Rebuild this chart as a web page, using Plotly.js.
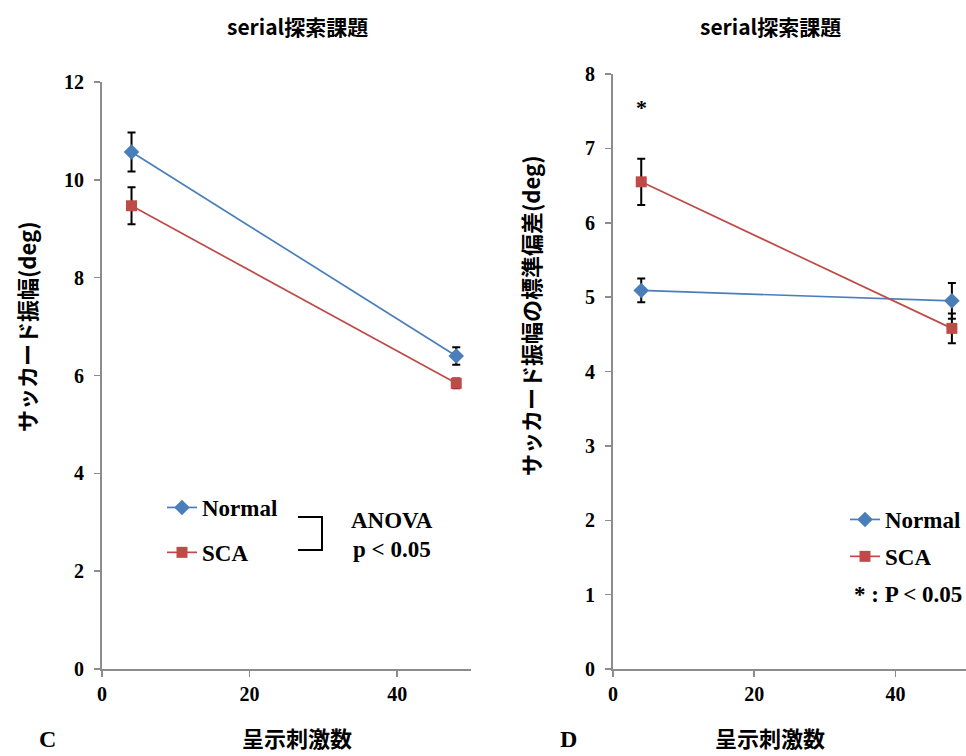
<!DOCTYPE html>
<html>
<head>
<meta charset="utf-8">
<script src="https://cdn.plot.ly/plotly-3.0.1.min.js"></script>
<style>
  html, body { margin: 0; padding: 0; background: #fff; }
  #chart { width: 966px; height: 756px; }
</style>
</head>
<body>
<div id="chart"></div>
<script>
// Number of presented stimuli (x positions of the two conditions)
const stimCounts = [4, 48];

// Panel C: saccade amplitude (deg), mean and error
const ampNormal = [10.57, 6.40];
const ampNormalErr = [0.40, 0.18];
const ampSCA = [9.47, 5.84];
const ampSCAErr = [0.38, 0.10];

// Panel D: standard deviation of saccade amplitude (deg), mean and error
const sdNormal = [5.09, 4.95];
const sdNormalErr = [0.16, 0.24];
const sdSCA = [6.55, 4.58];
const sdSCAErr = [0.31, 0.20];

// Significance marker in panel D
const sigX = [4];
const sigY = [7.55];

const groupNames = ['Normal', 'SCA'];
const xTickVals = [0, 20, 40];

const W = 966, H = 756;
const px = v => v / W;          // pixel column -> paper x
const py = v => (H - v) / H;    // pixel row -> paper y

const BLUE = '#4A7EBB';
const RED = '#BE4B48';
const AXIS = '#8C8C8C';
const SERIF = 'Liberation Serif, Times New Roman, serif';
const CJK = 'Noto Sans CJK JP, Noto Sans, sans-serif';

function series(x, y, err, name, color, symbol, xa, ya, legend, group) {
  return {
    type: 'scatter', mode: 'lines+markers',
    x: x, y: y, name: name,
    xaxis: xa, yaxis: ya, legend: legend, legendgroup: group,
    line: { color: color, width: 1.7 },
    marker: { color: color, symbol: symbol, size: symbol === 'square' ? 11 : 12 },
    error_y: { type: 'data', array: err, visible: true, color: '#000', thickness: 2, width: 4 }
  };
}

const data = [
  series(stimCounts, ampNormal, ampNormalErr, groupNames[0], BLUE, 'diamond', 'x', 'y', 'legend', 'cN'),
  series(stimCounts, ampSCA, ampSCAErr, groupNames[1], RED, 'square', 'x', 'y', 'legend', 'cS'),
  series(stimCounts, sdNormal, sdNormalErr, groupNames[0], BLUE, 'diamond', 'x2', 'y2', 'legend2', 'dN'),
  series(stimCounts, sdSCA, sdSCAErr, groupNames[1], RED, 'square', 'x2', 'y2', 'legend2', 'dS')
];

const tickFont = { family: SERIF, size: 20, color: '#000', weight: 'bold' };

function xAxis(domain, anchor) {
  return {
    domain: domain, anchor: anchor, range: [0, 50],
    tickvals: xTickVals, ticks: 'outside', ticklen: 6, tickwidth: 1.5, tickcolor: AXIS,
    showline: true, linecolor: AXIS, linewidth: 2,
    showgrid: false, zeroline: false, tickfont: tickFont, fixedrange: true
  };
}
function yAxis(domain, anchor, range, dtick) {
  return {
    domain: domain, anchor: anchor, range: range, dtick: dtick,
    ticks: 'outside', ticklen: 6, tickwidth: 1.5, tickcolor: AXIS,
    showline: true, linecolor: AXIS, linewidth: 2, ticklabelstandoff: 6,
    showgrid: false, zeroline: false, tickfont: tickFont, fixedrange: true
  };
}

function label(text, x, y, opts) {
  return Object.assign({
    text: text, x: x, y: y, xref: 'paper', yref: 'paper',
    showarrow: false, xanchor: 'center', yanchor: 'middle',
    font: { family: CJK, size: 20, color: '#000', weight: 'bold' }
  }, opts || {});
}

const legendFont = { family: SERIF, size: 23, color: '#000', weight: 'bold' };

const layout = {
  width: W, height: H,
  margin: { l: 0, r: 0, t: 0, b: 0 },
  paper_bgcolor: '#fff', plot_bgcolor: '#fff',
  showlegend: true,
  xaxis: xAxis([px(102), px(471)], 'y'),
  yaxis: yAxis([py(669), py(82)], 'x', [0, 12], 2),
  xaxis2: xAxis([px(613), 1.0], 'y2'),
  yaxis2: yAxis([py(669), py(74)], 'x2', [0, 8], 1),
  legend: {
    x: px(162), y: py(486), xanchor: 'left', yanchor: 'top',
    bgcolor: 'rgba(0,0,0,0)', borderwidth: 0, font: legendFont,
    tracegroupgap: 12, itemwidth: 30
  },
  legend2: {
    x: px(845), y: py(498), xanchor: 'left', yanchor: 'top',
    bgcolor: 'rgba(0,0,0,0)', borderwidth: 0, font: legendFont,
    tracegroupgap: 4, itemwidth: 30
  },
  shapes: [
    { type: 'path', xref: 'paper', yref: 'paper',
      path: `M ${px(298)},${py(517)} H ${px(322)} V ${py(550)} H ${px(298)}`,
      line: { color: '#000', width: 2 } }
  ],
  annotations: [
    label('serial探索課題', px(297), py(26), { font: { family: CJK, size: 21, color: '#000', weight: 'bold' } }),
    label('serial探索課題', px(770), py(26), { font: { family: CJK, size: 21, color: '#000', weight: 'bold' } }),
    label('呈示刺激数', px(297), py(737), { font: { family: CJK, size: 22, color: '#000', weight: 'bold' } }),
    label('呈示刺激数', px(770), py(737), { font: { family: CJK, size: 22, color: '#000', weight: 'bold' } }),
    label('C', px(47), py(739), { font: { family: SERIF, size: 24, color: '#000', weight: 'bold' } }),
    label('D', px(568), py(739), { font: { family: SERIF, size: 24, color: '#000', weight: 'bold' } }),
    label('サッカード振幅(deg)', px(26), py(327), { textangle: -90, font: { family: CJK, size: 22, color: '#000', weight: 'bold' } }),
    label('サッカード振幅の標準偏差(deg)', px(530), py(316), { textangle: -90, font: { family: CJK, size: 22, color: '#000', weight: 'bold' } }),
    label('ANOVA', px(392), py(521), { font: { family: SERIF, size: 23, color: '#000', weight: 'bold' } }),
    label('p < 0.05', px(392), py(549), { font: { family: SERIF, size: 23, color: '#000', weight: 'bold' } }),
    label('* : P < 0.05', px(964), py(594), { xanchor: 'right', font: { family: SERIF, size: 23, color: '#000', weight: 'bold' } }),
    { text: '*', x: sigX[0], y: sigY[0], xref: 'x2', yref: 'y2', showarrow: false,
      font: { family: SERIF, size: 22, color: '#000', weight: 'bold' } }
  ]
};

Plotly.newPlot('chart', data, layout, { displayModeBar: false, staticPlot: true });
</script>
</body>
</html>
